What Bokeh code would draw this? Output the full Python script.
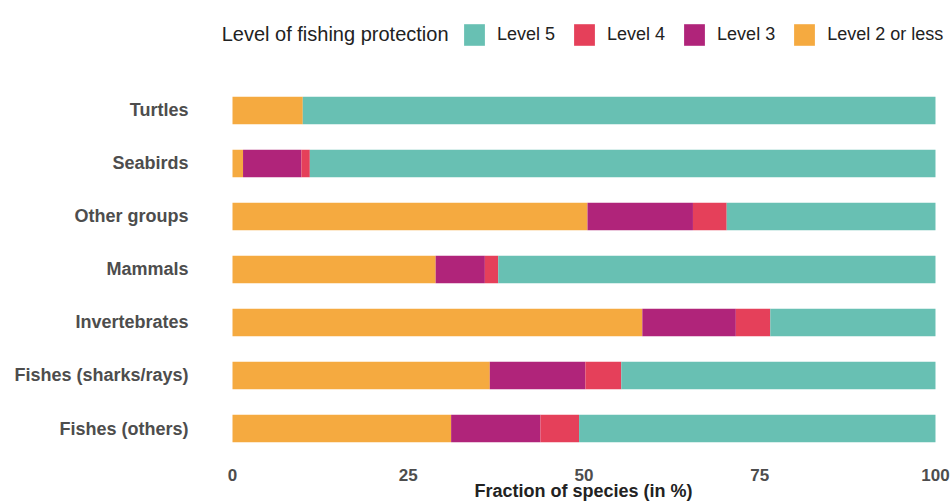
from bokeh.plotting import figure
from bokeh.models import Range1d, Legend, LegendItem, ColumnDataSource, FixedTicker, Label
from bokeh.embed import file_html
from bokeh.resources import INLINE

groups = ["Fishes (others)", "Fishes (sharks/rays)", "Invertebrates", "Mammals",
          "Other groups", "Seabirds", "Turtles"]
level2 = [31.1, 36.6, 58.3, 28.9, 50.5, 1.5, 10.0]
level3 = [12.7, 13.6, 13.3, 7.0, 15.0, 8.3, 0.0]
level4 = [5.5, 5.1, 4.9, 1.9, 4.8, 1.2, 0.0]
level5 = [50.7, 44.7, 23.5, 62.2, 29.7, 89.0, 90.0]

series = ["level2", "level3", "level4", "level5"]
labels = ["Level 2 or less", "Level 3", "Level 4", "Level 5"]
colors = ["#F5AA40", "#B0247A", "#E5405A", "#68C0B3"]
x_ticks = [0, 25, 50, 75, 100]
legend_title = "Level of fishing protection"
x_title = "Fraction of species (in %)"

pos = list(range(len(groups)))
src = ColumnDataSource(dict(pos=pos, group=groups, level2=level2, level3=level3,
                            level4=level4, level5=level5))

p = figure(width=952, height=504, output_backend="svg", toolbar_location=None, title=None,
           y_range=Range1d(-0.566, 8.075), x_range=Range1d(-2.56, 102.42),
           min_border_left=214, min_border_right=0, min_border_top=0, min_border_bottom=46)

renderers = p.hbar_stack(series, y="pos", height=0.52, color=colors, source=src,
                         line_color=None)

items = [LegendItem(label=labels[i], renderers=[renderers[i]]) for i in [3, 2, 1, 0]]
legend = Legend(items=items, orientation="horizontal", location=(247, 410),
                label_text_font="Liberation Sans", label_text_font_size="18px",
                label_text_color="#222222", label_text_baseline="middle",
                glyph_width=26, glyph_height=27, label_standoff=10, spacing=16,
                padding=0, margin=0, border_line_color=None, background_fill_alpha=0)
p.add_layout(legend, "center")

p.add_layout(Label(x=234, y=425, x_units="screen", y_units="screen", text=legend_title,
                   text_font="Liberation Sans", text_font_size="20px",
                   text_color="#222222", text_align="right", text_baseline="middle"))

p.xgrid.visible = False
p.ygrid.visible = False
p.outline_line_color = None

p.xaxis.ticker = FixedTicker(ticks=x_ticks)
p.xaxis.axis_line_color = None
p.xaxis.major_tick_line_color = None
p.xaxis.minor_tick_line_color = None
p.xaxis.major_label_text_font = "Liberation Sans"
p.xaxis.major_label_text_font_style = "bold"
p.xaxis.major_label_text_font_size = "17px"
p.xaxis.major_label_text_color = "#4d4d4d"
p.xaxis.major_label_standoff = 4
p.xaxis.axis_label = x_title
p.xaxis.axis_label_text_font = "Liberation Sans"
p.xaxis.axis_label_text_font_style = "bold"
p.xaxis.axis_label_text_font_size = "18px"
p.xaxis.axis_label_text_color = "#222222"
p.xaxis.axis_label_standoff = -3

p.yaxis.ticker = FixedTicker(ticks=pos)
p.yaxis.major_label_overrides = {i: g for i, g in zip(pos, groups)}
p.yaxis.axis_line_color = None
p.yaxis.major_tick_line_color = None
p.yaxis.minor_tick_line_color = None
p.yaxis.major_label_text_font = "Liberation Sans"
p.yaxis.major_label_text_font_style = "bold"
p.yaxis.major_label_text_font_size = "18px"
p.yaxis.major_label_text_color = "#4d4d4d"
p.yaxis.major_label_standoff = 20

open("out.html", "w").write(file_html(p, INLINE))
